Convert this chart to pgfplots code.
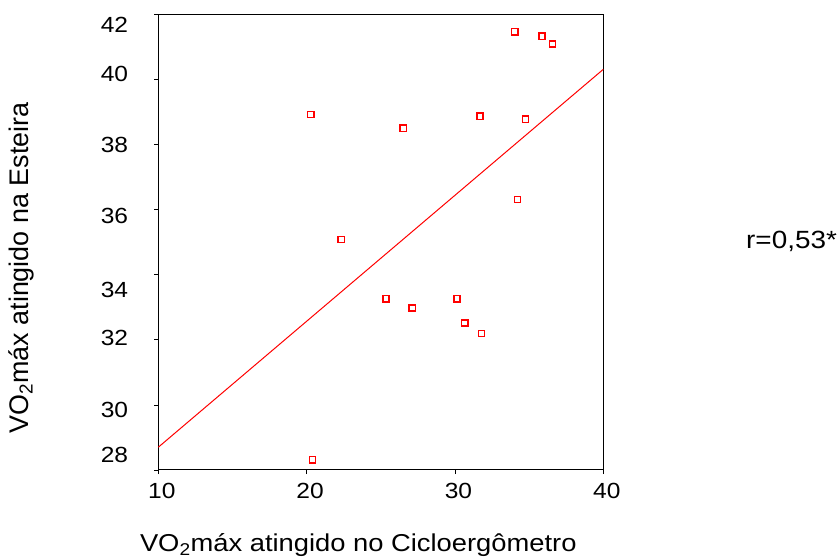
\documentclass[border=0pt]{standalone}
\usepackage{fontspec}
\setmainfont{Liberation Sans}[FakeStretch=1.12]
\newfontfamily\ylabfont{Liberation Sans}
\usepackage{pgfplots}
\pgfplotsset{compat=1.18}
\usepackage{pgfplotstable}

% VO2max: cycle ergometer (x) vs treadmill (y)
\pgfplotstableread{
x      y
34.03  41.47
35.87  41.34
36.59  41.10
20.28  38.93
26.50  38.51
31.69  38.88
34.75  38.79
34.21  36.32
22.32  35.09
25.35  33.26
27.11  32.98
30.14  33.26
30.66  32.52
31.78  32.20
20.38  28.31
}\vodata

% fitted regression line
\pgfplotstableread{
x   y
10  28.70
40  40.32
}\fitline

\definecolor{spssred}{RGB}{255,0,0}

\begin{document}
\begin{tikzpicture}
\path[use as bounding box] (0,0) rectangle (839bp,558bp);
\begin{axis}[
  at={(158.3bp,88bp)}, anchor=south west,
  scale only axis, width=445bp, height=455.3bp,
  xmin=10, xmax=40, ymin=28, ymax=42,
  axis line style={black, line width=1bp},
  tick style={black, line width=0.9bp},
  tick align=outside,
  xtick pos=bottom, ytick pos=left,
  major tick length=4bp,
  xtick={10,20,30,40},
  ytick={28,30,...,42},
  yticklabels={},
  xticklabel style={font=\fontsize{22}{26}\selectfont, inner sep=0pt, anchor=north, yshift=-9bp, xshift=3.5bp},
  /pgf/number format/assume math mode=true,
  extra y ticks={28.45,29.86,32.07,33.54,35.80,37.98,40.19,41.68},
  extra y tick labels={28,30,32,34,36,38,40,42},
  extra y tick style={
    tick style={draw=none},
    yticklabel style={font=\fontsize{22}{26}\selectfont, inner sep=0pt, anchor=east, xshift=-26bp},
  },
  clip=false,
]
\addplot[spssred, line width=1bp] table[x=x,y=y] {\fitline};
\addplot[only marks, mark=square, mark size=3.1bp,
  mark options={draw=spssred, line width=1.3bp, fill=white}] table[x=x,y=y] {\vodata};
\end{axis}
\node[anchor=base, inner sep=0pt] at (358.3bp,6.3bp)
  {\fontsize{24.5}{28}\selectfont VO\textsubscript{2}máx atingido no Cicloergômetro};
\node[rotate=90, anchor=center, inner sep=0pt] at (21bp,290bp)
  {\ylabfont\fontsize{27}{31}\selectfont VO\textsubscript{2}máx atingido na Esteira};
\node[anchor=base west, inner sep=0pt] at (746bp,309.7bp)
  {\fontsize{25}{29}\selectfont r=0,53*};
\end{tikzpicture}
\end{document}
